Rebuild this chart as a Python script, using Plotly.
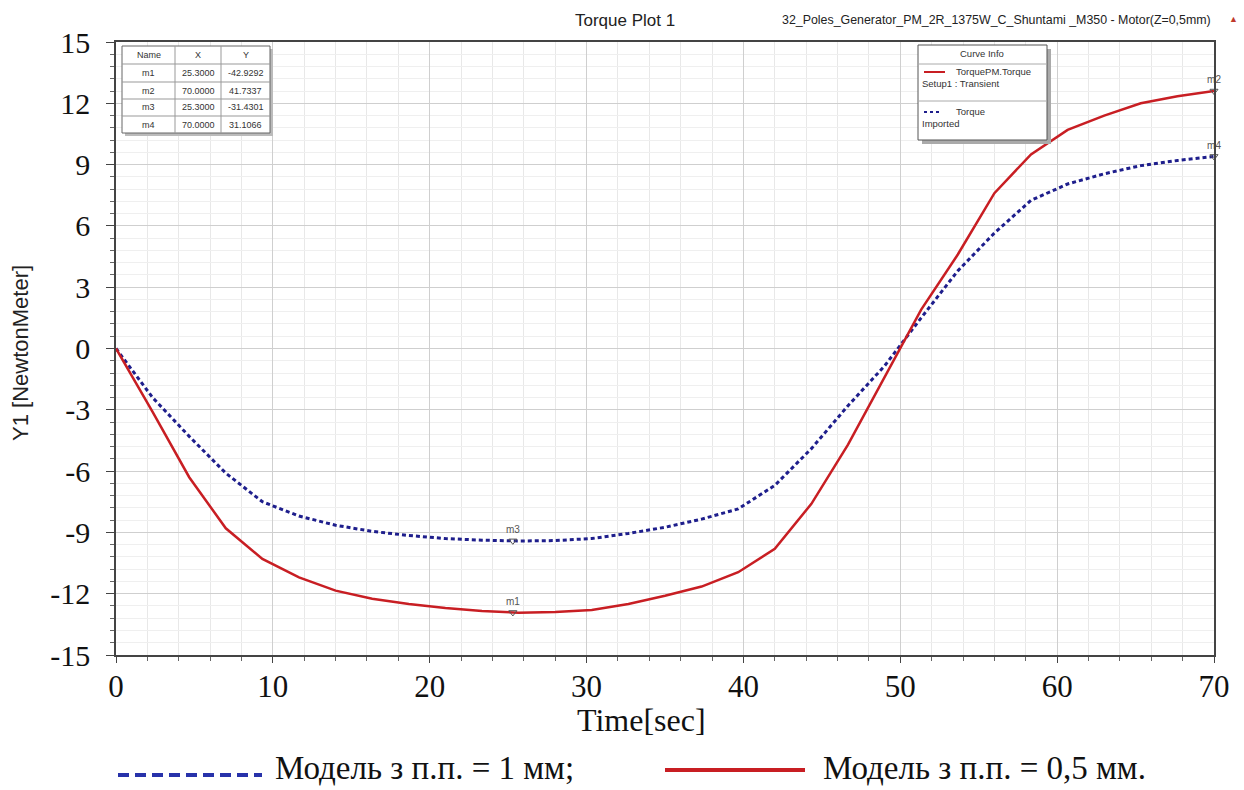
import numpy as np
import plotly.graph_objects as go

# ---------------- data ----------------
time_s = [0.0, 2.333, 4.667, 7.0, 9.333, 11.667, 14.0, 16.333, 18.667, 21.0,
          23.333, 25.667, 28.0, 30.333, 32.667, 35.0, 37.333, 39.667, 42.0, 44.333,
          46.667, 49.0, 51.333, 53.667, 56.0, 58.333, 60.667, 63.0, 65.333, 67.667, 70.0]
torque_05mm = [0.0, -3.1, -6.3, -8.8, -10.3, -11.2, -11.85, -12.25, -12.5, -12.7,
               -12.85, -12.93, -12.9, -12.8, -12.5, -12.1, -11.65, -10.95, -9.8, -7.6,
               -4.7, -1.4, 1.9, 4.6, 7.6, 9.5, 10.7, 11.4, 12.0, 12.35, 12.6]
torque_1mm = [0.0, -2.4, -4.3, -6.1, -7.5, -8.2, -8.65, -8.95, -9.15, -9.3,
              -9.38, -9.42, -9.4, -9.3, -9.05, -8.75, -8.35, -7.85, -6.7, -4.9,
              -2.8, -0.85, 1.5, 3.8, 5.65, 7.25, 8.05, 8.55, 8.95, 9.2, 9.4]

y_tickvals = [-15, -12, -9, -6, -3, 0, 3, 6, 9, 12, 15]
y_ticktext = ["-15", "-12", "-9", "-6", "-3", "0", "3", "6", "9", "12", "15"]
x_tickvals = [0, 10, 20, 30, 40, 50, 60, 70]

marker_names = ["m1", "m2", "m3", "m4"]
marker_x = [25.3, 70.0, 25.3, 70.0]
marker_curve = ["05", "05", "1", "1"]
table_x = ["25.3000", "70.0000", "25.3000", "70.0000"]
table_y = ["-42.9292", "41.7337", "-31.4301", "31.1066"]

legend_1mm = "Модель з п.п. = 1 мм;"
legend_05mm = "Модель з п.п. = 0,5 мм."
title_text = "Torque Plot 1"
design_text = "32_Poles_Generator_PM_2R_1375W_C_Shuntami _M350 - Motor(Z=0,5mm)"

RED = "rgb(200,30,35)"
BLUE = "rgb(30,30,140)"

# ---------------- geometry helpers (pixel -> paper) ----------------
W, H = 1244, 790
L, R, T, B = 116, 30, 42, 135
PW, PH = W - L - R, H - T - B


def px(x):
    return (x - L) / PW


def py(y):
    return (H - B - y) / PH


fig = go.Figure()

fig.add_trace(go.Scatter(x=time_s, y=torque_1mm, mode="lines",
                         line=dict(color=BLUE, width=3, dash="4px,3px"),
                         showlegend=False, hoverinfo="skip"))
fig.add_trace(go.Scatter(x=time_s, y=torque_05mm, mode="lines",
                         line=dict(color=RED, width=2.5),
                         showlegend=False, hoverinfo="skip"))

# markers m1..m4
my_vals = []
for mx, c in zip(marker_x, marker_curve):
    src = torque_05mm if c == "05" else torque_1mm
    my_vals.append(float(np.interp(mx, time_s, src)))
fig.add_trace(go.Scatter(x=marker_x, y=my_vals, mode="markers+text",
                         text=marker_names, textposition="top center",
                         textfont=dict(family="Arial", size=10, color="#555"),
                         marker=dict(symbol="triangle-down-open", size=7,
                                     color="#555", line=dict(width=1)),
                         cliponaxis=False, showlegend=False, hoverinfo="skip"))

shapes = []
annos = []

# ---------- marker table (top-left) ----------
tx0, tx1 = 122, 270
col_edges = [122, 175, 221, 270]
row_edges = [46, 64, 82, 99, 116, 133]
shapes.append(dict(type="rect", xref="paper", yref="paper",
                   x0=px(tx0 + 3), x1=px(tx1 + 3), y0=py(row_edges[-1] + 3), y1=py(row_edges[0] + 3),
                   fillcolor="#bbbbbb", line=dict(width=0), layer="above"))
shapes.append(dict(type="rect", xref="paper", yref="paper",
                   x0=px(tx0), x1=px(tx1), y0=py(row_edges[-1]), y1=py(row_edges[0]),
                   fillcolor="white", line=dict(color="#666", width=1), layer="above"))
for xe in col_edges[1:-1]:
    shapes.append(dict(type="line", xref="paper", yref="paper", x0=px(xe), x1=px(xe),
                       y0=py(row_edges[-1]), y1=py(row_edges[0]),
                       line=dict(color="#999", width=1), layer="above"))
for ye in row_edges[1:-1]:
    shapes.append(dict(type="line", xref="paper", yref="paper", x0=px(tx0), x1=px(tx1),
                       y0=py(ye), y1=py(ye), line=dict(color="#999", width=1), layer="above"))
rows = [["Name", "X", "Y"]] + [[n, a, b] for n, a, b in zip(marker_names, table_x, table_y)]
for ri, row in enumerate(rows):
    yc = (row_edges[ri] + row_edges[ri + 1]) / 2
    for ci, txt in enumerate(row):
        xc = (col_edges[ci] + col_edges[ci + 1]) / 2
        annos.append(dict(xref="paper", yref="paper", x=px(xc), y=py(yc), text=txt,
                          showarrow=False, xanchor="center", yanchor="middle",
                          font=dict(family="Arial", size=9, color="#333")))

# ---------- Curve Info box (top-right) ----------
bx0, bx1, by0, by1 = 918, 1047, 45, 140
shapes.append(dict(type="rect", xref="paper", yref="paper",
                   x0=px(bx0 + 4), x1=px(bx1 + 4), y0=py(by1 + 4), y1=py(by0 + 4),
                   fillcolor="#aaaaaa", line=dict(width=0), layer="above"))
shapes.append(dict(type="rect", xref="paper", yref="paper",
                   x0=px(bx0), x1=px(bx1), y0=py(by1), y1=py(by0),
                   fillcolor="white", line=dict(color="#555", width=1), layer="above"))
for ye in [64, 101]:
    shapes.append(dict(type="line", xref="paper", yref="paper", x0=px(bx0), x1=px(bx1),
                       y0=py(ye), y1=py(ye), line=dict(color="#aaa", width=1), layer="above"))
shapes.append(dict(type="line", xref="paper", yref="paper", x0=px(924), x1=px(945),
                   y0=py(72), y1=py(72), line=dict(color=RED, width=2), layer="above"))
shapes.append(dict(type="line", xref="paper", yref="paper", x0=px(924), x1=px(942),
                   y0=py(112), y1=py(112), line=dict(color=BLUE, width=2, dash="3px,3px"),
                   layer="above"))
info_font = dict(family="Arial", size=9.5, color="#333")
annos += [
    dict(xref="paper", yref="paper", x=px(982), y=py(54), text="Curve Info",
         showarrow=False, xanchor="center", yanchor="middle", font=info_font),
    dict(xref="paper", yref="paper", x=px(954), y=py(72), text="TorquePM.Torque",
         showarrow=False, xanchor="left", yanchor="middle", font=info_font),
    dict(xref="paper", yref="paper", x=px(920), y=py(83), text="Setup1 : Transient",
         showarrow=False, xanchor="left", yanchor="middle", font=info_font),
    dict(xref="paper", yref="paper", x=px(954), y=py(112), text="Torque",
         showarrow=False, xanchor="left", yanchor="middle", font=info_font),
    dict(xref="paper", yref="paper", x=px(920), y=py(124), text="Imported",
         showarrow=False, xanchor="left", yanchor="middle", font=info_font),
]

# ---------- titles ----------
annos += [
    dict(xref="paper", yref="paper", x=px(625), y=py(20), text=title_text, showarrow=False,
         xanchor="center", yanchor="middle", font=dict(family="Arial", size=17, color="#222")),
    dict(xref="paper", yref="paper", x=px(1213), y=py(20), text=design_text, showarrow=False,
         xanchor="right", yanchor="middle", font=dict(family="Arial", size=12.4, color="#222")),
    dict(xref="paper", yref="paper", x=px(1233), y=py(19), text="▲", showarrow=False,
         xanchor="center", yanchor="middle", font=dict(family="Arial", size=9, color="#c0392b")),
    dict(xref="paper", yref="paper", x=px(20), y=py(353), text="Y1 [NewtonMeter]",
         showarrow=False, textangle=-90, xanchor="center", yanchor="middle",
         font=dict(family="Arial", size=22, color="#222")),
    dict(xref="paper", yref="paper", x=px(641), y=py(720), text="Time[sec]",
         showarrow=False, xanchor="center", yanchor="middle",
         font=dict(family="Liberation Serif", size=32, color="#111")),
]

# ---------- bottom legend ----------
shapes.append(dict(type="line", xref="paper", yref="paper", x0=px(118), x1=px(262),
                   y0=py(775), y1=py(775), line=dict(color="rgb(40,50,170)", width=4, dash="11px,6px")))
shapes.append(dict(type="line", xref="paper", yref="paper", x0=px(665), x1=px(805),
                   y0=py(770), y1=py(770), line=dict(color=RED, width=4)))
annos += [
    dict(xref="paper", yref="paper", x=px(274), y=py(768), text=legend_1mm, showarrow=False,
         xanchor="left", yanchor="middle", borderpad=0,
         font=dict(family="Liberation Serif", size=33, color="#111")),
    dict(xref="paper", yref="paper", x=px(822), y=py(768), text=legend_05mm, showarrow=False,
         xanchor="left", yanchor="middle", borderpad=0,
         font=dict(family="Liberation Serif", size=33, color="#111")),
]

fig.update_layout(
    width=W, height=H,
    margin=dict(l=L, r=R, t=T, b=B),
    paper_bgcolor="white", plot_bgcolor="white",
    shapes=shapes, annotations=annos,
    xaxis=dict(range=[0, 70], tickvals=x_tickvals, ticktext=[str(v) for v in x_tickvals],
               ticks="outside", ticklen=6, tickcolor="#444", ticklabelstandoff=-3,
               tickfont=dict(family="Liberation Serif", size=31, color="#111"),
               showgrid=True, gridcolor="#cfcfcf", gridwidth=1,
               minor=dict(dtick=2, ticks="outside", ticklen=4, tickcolor="#666",
                          showgrid=True, gridcolor="#e8e8e8"),
               showline=True, linecolor="#444", linewidth=1.5, mirror=True, zeroline=False),
    yaxis=dict(range=[-15, 15], tickvals=y_tickvals, ticktext=y_ticktext,
               ticks="outside", ticklen=8, tickcolor="#444", ticklabelstandoff=10,
               tickfont=dict(family="Liberation Serif", size=30, color="#111"),
               showgrid=True, gridcolor="#cfcfcf", gridwidth=1,
               minor=dict(dtick=0.6, tick0=0, ticks="outside", ticklen=4, tickcolor="#666",
                          showgrid=True, gridcolor="#efefef"),
               showline=True, linecolor="#444", linewidth=1.5, mirror=True, zeroline=False),
)

fig.write_html("out.html", config={"displayModeBar": False},
               post_script="document.body.style.margin='0';document.body.style.overflow='hidden';")
